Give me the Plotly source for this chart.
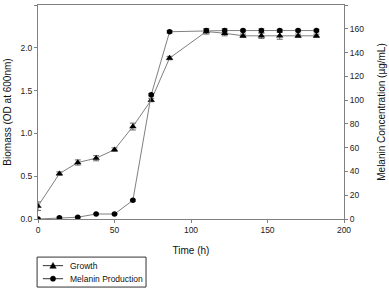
import plotly.graph_objects as go

time_h = [0, 14, 26, 38, 50, 62, 74, 86, 110, 122, 134, 146, 158, 170, 182]
growth_od = [0.15, 0.53, 0.66, 0.71, 0.81, 1.08, 1.39, 1.88, 2.19, 2.17, 2.14, 2.14, 2.14, 2.14, 2.14]
growth_err = [0.05, 0.02, 0.03, 0.03, 0.02, 0.04, 0.02, 0.02, 0.03, 0.03, 0.02, 0.03, 0.04, 0.02, 0.02]
melanin_ugml = [0, 1.1, 1.5, 4.2, 4.2, 15.7, 104.5, 157.5, 158.5, 158.5, 158.5, 158.5, 158.5, 158.5, 158.5]
melanin_err = [0.5, 0.5, 0.5, 0.5, 0.5, 0.8, 1.0, 1.0, 1.5, 1.5, 1.0, 1.5, 1.0, 1.0, 1.0]
series_names = ["Growth", "Melanin Production"]

font = "Liberation Sans, Arial, sans-serif"
line_col = "#808080"

fig = go.Figure()
fig.add_trace(go.Scatter(
    x=time_h, y=growth_od, name=series_names[0], mode="lines+markers",
    line=dict(color=line_col, width=1),
    marker=dict(symbol="triangle-up", size=6.5, color="black"),
    error_y=dict(type="data", array=growth_err, color="#404040", thickness=0.8, width=3),
    yaxis="y", showlegend=False,
))
fig.add_trace(go.Scatter(
    x=time_h, y=melanin_ugml, name=series_names[1], mode="lines+markers",
    line=dict(color=line_col, width=1),
    marker=dict(symbol="circle", size=5.5, color="black"),
    error_y=dict(type="data", array=melanin_err, color="#404040", thickness=0.8, width=3),
    yaxis="y2", showlegend=False,
))

axis_common = dict(
    showline=True, linecolor=line_col, linewidth=1, ticks="outside", ticklen=3,
    tickcolor=line_col, showgrid=False, zeroline=False, automargin=False,
    tickfont=dict(family=font, size=8.5, color="#222"),
)
title_font = dict(family=font, size=10, color="#111")

# Compact legend box drawn below the plot (paper coordinates)
shapes = [dict(type="rect", xref="paper", yref="paper", x0=-0.003, x1=0.353, y0=-0.318, y1=-0.178,
               line=dict(color="#333", width=1), fillcolor="white", layer="above")]
annotations = []
rows_y = [-0.218, -0.279]
for i, (name, ry) in enumerate(zip(series_names, rows_y)):
    shapes.append(dict(type="line", xref="paper", yref="paper", x0=0.016, x1=0.082, y0=ry, y1=ry,
                       line=dict(color="#333", width=1), layer="above"))
    if i == 0:
        shapes.append(dict(type="path", xref="paper", yref="paper", xsizemode="pixel", ysizemode="pixel",
                           xanchor=0.049, yanchor=ry, path="M -3.2,-2.6 L 3.2,-2.6 L 0,3.2 Z",
                           fillcolor="black", line=dict(color="black", width=0.5), layer="above"))
    else:
        shapes.append(dict(type="circle", xref="paper", yref="paper", xsizemode="pixel", ysizemode="pixel",
                           xanchor=0.049, yanchor=ry, x0=-2.6, x1=2.6, y0=-2.6, y1=2.6,
                           fillcolor="black", line=dict(color="black", width=0.5), layer="above"))
    annotations.append(dict(xref="paper", yref="paper", x=0.098, y=ry, text=name, showarrow=False,
                            xanchor="left", yanchor="middle", font=dict(family=font, size=8.5, color="#111")))

fig.update_layout(
    width=389, height=292,
    margin=dict(l=38, r=45, t=5, b=73),
    paper_bgcolor="white", plot_bgcolor="white",
    font=dict(family=font, color="#111"),
    xaxis=dict(range=[0, 200], tickvals=[0, 50, 100, 150, 200], mirror=True,
               title=dict(text="Time (h)", font=title_font, standoff=12),
               **axis_common),
    yaxis=dict(range=[0, 2.5], tickvals=[0, 0.5, 1.0, 1.5, 2.0, 2.5], tickformat=".1f",
               title=dict(text="Biomass (OD at 600nm)", font=title_font, standoff=6),
               **axis_common),
    yaxis2=dict(range=[0, 180], tickvals=list(range(0, 181, 20)), overlaying="y", side="right",
                title=dict(text="Melanin Concentration (µg/mL)", font=title_font, standoff=14),
                **axis_common),
    showlegend=False,
    shapes=shapes,
    annotations=annotations,
)

fig.write_html("out.html", config={"displayModeBar": False},
               post_script="document.body.style.margin='0';document.body.style.overflow='hidden';")
